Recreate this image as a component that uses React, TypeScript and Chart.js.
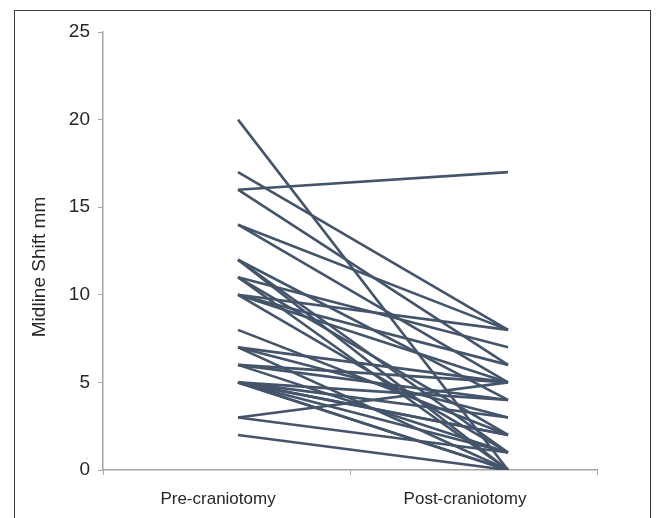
import React, { useEffect, useRef } from 'react';
import { Chart, registerables } from 'chart.js';

Chart.register(...registerables);

// ---- data ----
const categories = ['Pre-craniotomy', 'Post-craniotomy'];
const preValues = [20, 17, 16, 16, 14, 14, 12, 12, 12, 11, 11, 11, 10, 10, 10, 10, 8, 7, 7, 7, 6, 6, 6, 5, 5, 5, 5, 5, 5, 5, 3, 3, 2];
const postValues = [0, 8, 17, 6, 8, 5, 4, 1, 0, 7, 2, 0, 8, 6, 5, 1, 2, 5, 3, 0, 5, 4, 1, 4, 3, 2, 2, 1, 0, 0, 5, 1, 0];
const yTickValues = [0, 5, 10, 15, 20, 25];
const yTitle = 'Midline Shift mm';

// ---- styles ----
const FONT = '"Liberation Sans", Arial, sans-serif';
const LINE_COLOR = '#44546a';
const AXIS_COLOR = '#a6a6a6';
const TEXT_COLOR = '#262626';

export default function App() {
  const ref = useRef<HTMLCanvasElement>(null);

  useEffect(() => {
    if (!ref.current) return;
    const datasets = preValues.map((p, i) => ({
      data: [
        { x: 0, y: p },
        { x: 1, y: postValues[i] },
      ],
      borderColor: LINE_COLOR,
      borderWidth: 2.6,
      pointRadius: 0,
      fill: false,
    }));

    const xMin = -0.5;
    const xMax = 1.3296;
    const xMid = 0.4148;
    const labelPos = [-0.074, 0.8407];
    const xTickVals = [xMin, labelPos[0], xMid, labelPos[1], xMax];
    const xTickLabels = ['', categories[0], '', categories[1], ''];

    const titlePlugin = {
      id: 'yTitle',
      afterDraw(chart: any) {
        const ctx = chart.ctx;
        ctx.save();
        ctx.translate(40, 267);
        ctx.rotate(-Math.PI / 2);
        ctx.font = `19px ${FONT}`;
        ctx.fillStyle = TEXT_COLOR;
        ctx.textAlign = 'center';
        ctx.textBaseline = 'middle';
        ctx.fillText(yTitle, 0, 0);
        ctx.restore();
      },
    };

    const chart = new Chart(ref.current, {
      type: 'line',
      data: { datasets } as any,
      options: {
        animation: false,
        responsive: false,
        maintainAspectRatio: false,
        layout: { padding: { top: 32, right: 63, bottom: 0, left: 0 } },
        plugins: { legend: { display: false }, tooltip: { enabled: false } },
        scales: {
          x: {
            type: 'linear',
            min: xMin,
            max: xMax,
            afterBuildTicks: (s: any) => {
              s.ticks = xTickVals.map((v) => ({ value: v }));
            },
            afterFit: (s: any) => {
              s.height = 48;
            },
            ticks: {
              autoSkip: false,
              maxRotation: 0,
              minRotation: 0,
              color: TEXT_COLOR,
              font: { family: FONT, size: 17 },
              padding: 14,
              callback: (_v: any, i: number) => xTickLabels[i],
            },
            grid: {
              drawOnChartArea: false,
              drawTicks: true,
              tickLength: 5,
              tickColor: (ctx: any) => (ctx.index % 2 === 0 ? AXIS_COLOR : 'rgba(0,0,0,0)'),
            },
            border: { color: AXIS_COLOR, width: 1.5 },
          },
          y: {
            min: 0,
            max: 25,
            afterBuildTicks: (s: any) => {
              s.ticks = yTickValues.map((v) => ({ value: v }));
            },
            afterFit: (s: any) => {
              s.width = 103;
            },
            ticks: {
              color: TEXT_COLOR,
              font: { family: FONT, size: 19 },
              padding: 8,
            },
            grid: {
              drawOnChartArea: false,
              drawTicks: true,
              tickLength: 5,
              tickColor: AXIS_COLOR,
            },
            border: { color: AXIS_COLOR, width: 1.5 },
          },
        },
      },
      plugins: [titlePlugin],
    } as any);

    return () => chart.destroy();
  }, []);

  return (
    <div style={{ position: 'fixed', left: 0, top: 0, width: 660, height: 518, background: '#fff', overflow: 'hidden' }}>
      <div
        style={{
          position: 'absolute',
          left: 14,
          top: 10,
          width: 635,
          height: 540,
          borderLeft: '1.5px solid #3a3a3a',
          borderTop: '1.5px solid #3a3a3a',
          borderRight: '1.5px solid #3a3a3a',
        }}
      />
      <canvas ref={ref} width={660} height={518} style={{ position: 'absolute', left: 0, top: 0, width: 660, height: 518 }} />
    </div>
  );
}
